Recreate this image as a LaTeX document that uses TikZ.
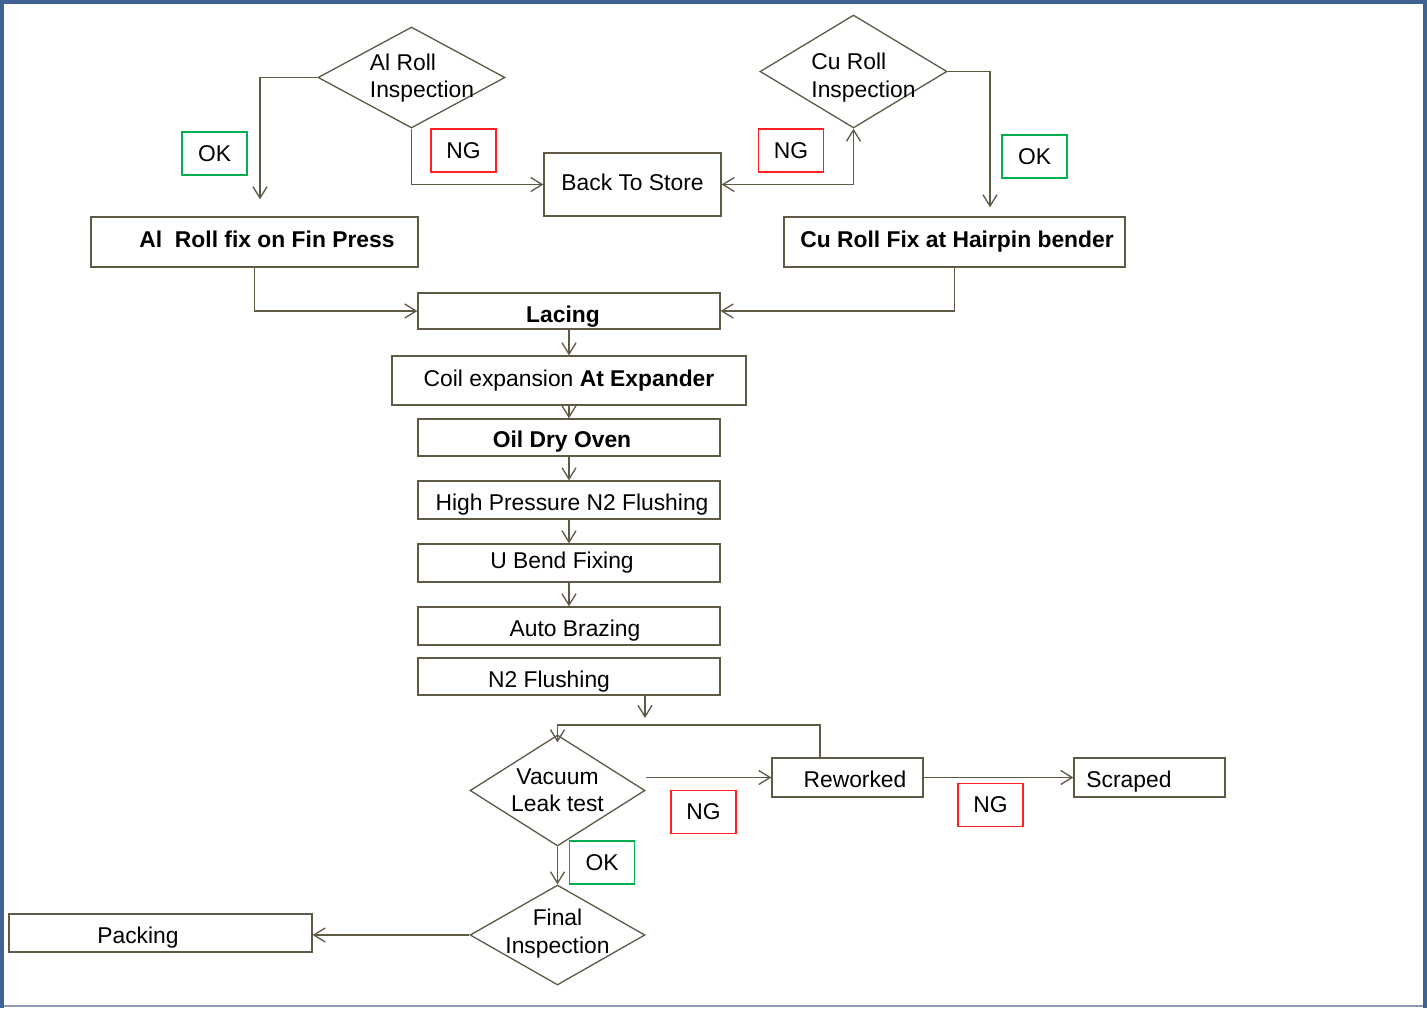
\documentclass[tikz,border=0pt]{standalone}
\usepackage{fontspec}
\setmainfont{Liberation Sans}
\usetikzlibrary{shapes.geometric, arrows.meta}
\definecolor{frameblue}{HTML}{3F6494}
\definecolor{framegray}{HTML}{8A9AB3}
\definecolor{flowline}{HTML}{5E5A45}
\definecolor{okgreen}{HTML}{00B050}
\definecolor{ngred}{HTML}{FF2020}

\tikzset{
  flowbox/.style={draw=flowline, line width=0.75pt, inner sep=0pt},
  decision/.style={diamond, draw=flowline, line width=0.75pt, inner sep=0pt},
  okbox/.style={draw=okgreen, line width=0.75pt, inner sep=0pt, minimum width=1.3cm, minimum height=0.86cm},
  ngbox/.style={draw=ngred, line width=0.75pt, inner sep=0pt, minimum width=1.3cm, minimum height=0.86cm},
  flow/.style={draw=flowline, line width=0.75pt, ->},
}

\begin{document}
\begin{tikzpicture}[x=0.02cm, y=-0.02cm, font=\fontsize{13}{15.5}\selectfont,
  >={Straight Barb[length=6.5pt, width=8pt]}]
  \useasboundingbox (0,0) rectangle (1427,1008);

  % Frame
  \draw[framegray, line width=0.6pt] (0,1006) -- (1427,1006);
  \draw[frameblue, line width=2.3pt] (2,1008) -- (2,2) -- (1425,2) -- (1425,1008);

  % Incoming roll inspection (TOP)
  \node[decision, minimum width=3.74cm, minimum height=2.02cm,
    label={[align=left, xshift=0.21cm, yshift=-0.01cm]center:Al Roll\\Inspection}] (alins) at (411.5,77.5) {};
  \node[decision, minimum width=3.74cm, minimum height=2.26cm,
    label={[align=left, xshift=0.2cm, yshift=-0.12cm]center:Cu Roll\\Inspection}] (cuins) at (853.5,71.5) {};
  \node[flowbox, minimum width=3.54cm, minimum height=1.26cm,
    label={[yshift=0.05cm]center:Back To Store}] (store) at (632.5,184.5) {};

  \node[flowbox, minimum width=6.54cm, minimum height=1cm,
    label={[xshift=0.25cm, yshift=0.06cm]center:\textbf{Al\ \ Roll fix on Fin Press}}] (alfix) at (254.5,242) {};
  \node[flowbox, minimum width=6.82cm, minimum height=1cm,
    label={[xshift=0.05cm, yshift=0.01cm]center:\textbf{Cu Roll Fix at Hairpin bender}}] (cufix) at (954.5,242) {};

  % OK / NG tags
  \node[okbox] (okal) at (214.5,153.5) {OK};
  \node[ngbox] (ngal) at (463.5,150.5) {NG};
  \node[ngbox] (ngcu) at (791,150.5) {NG};
  \node[okbox] (okcu) at (1034.5,156.5) {OK};

  % Main line (MIDDLE)
  \node[flowbox, minimum width=6.04cm, minimum height=0.72cm,
    label={[xshift=-0.12cm, yshift=-0.12cm]center:\textbf{Lacing}}] (lacing) at (569,311) {};
  \node[flowbox, minimum width=7.08cm, minimum height=0.98cm,
    label={[yshift=-0.01cm]center:Coil expansion \textbf{At Expander}}] (coil) at (569,380.5) {};
  \node[flowbox, minimum width=6.04cm, minimum height=0.74cm,
    label={[xshift=-0.14cm, yshift=-0.09cm]center:\textbf{Oil Dry Oven}}] (oven) at (569,437.5) {};
  \node[flowbox, minimum width=6.04cm, minimum height=0.76cm,
    label={[xshift=0.06cm, yshift=-0.1cm]center:High Pressure N2 Flushing}] (hpf) at (569,500) {};
  \node[flowbox, minimum width=6.04cm, minimum height=0.76cm,
    label={[xshift=-0.14cm]center:U Bend Fixing}] (ubend) at (569,563) {};
  \node[flowbox, minimum width=6.04cm, minimum height=0.76cm,
    label={[xshift=0.12cm, yshift=-0.1cm]center:Auto Brazing}] (auto) at (569,626) {};
  \node[flowbox, minimum width=6.04cm, minimum height=0.74cm,
    label={[xshift=-0.4cm, yshift=-0.11cm]center:N2 Flushing}] (n2) at (569,676.5) {};

  % Leak test and final (LOWER)
  \node[decision, minimum width=3.5cm, minimum height=2.22cm,
    label={[align=center]center:Vacuum\\Leak test}] (vac) at (557.5,790.5) {};
  \node[flowbox, minimum width=3.02cm, minimum height=0.78cm,
    label={[xshift=0.15cm, yshift=-0.03cm]center:Reworked}] (rework) at (847.5,777.5) {};
  \node[flowbox, minimum width=3.02cm, minimum height=0.78cm,
    label={[xshift=-0.41cm, yshift=-0.09cm]center:Scraped}] (scraped) at (1149.5,777.5) {};
  \node[decision, minimum width=3.5cm, minimum height=2cm,
    label={[align=center, yshift=0.03cm]center:Final\\Inspection}] (final) at (557.5,935) {};
  \node[flowbox, minimum width=6.06cm, minimum height=0.76cm,
    label={[xshift=-0.45cm, yshift=-0.1cm]center:Packing}] (pack) at (160.5,933) {};

  \node[ngbox] (ngvac) at (703.5,812) {NG};
  \node[ngbox] (ngrw) at (990.5,805) {NG};
  \node[okbox] (okvac) at (602,862.5) {OK};

  % Connectors
  \coordinate (n2drop) at (645,718);
  \coordinate (loop) at (820,725);

  \draw[flow] (alins.west) -| ([shift={(5.5,-17)}]alfix.north);
  \draw[flow] (alins.south) |- (store.west);
  \draw[flow, <->] (store.east) -| (cuins.south);
  \draw[flow] (cuins.east) -| ([shift={(35.5,-9)}]cufix.north);
  \draw[flow] (alfix.south) |- (lacing.west);
  \draw[flow] (cufix.south) |- (lacing.east);

  \draw[flow] (lacing) -- (coil);
  \draw[flow] (coil) -- (oven);
  \draw[flow] (oven) -- (hpf);
  \draw[flow] (hpf) -- (ubend);
  \draw[flow] (ubend) -- (auto);
  \draw[flow] (n2.south -| n2drop) -- (n2drop);

  \draw[flow] (rework.north -| loop) -- (loop) -| ([shift={(0,8)}]vac.north);
  \draw[flow] (vac.east |- rework.west) -- (rework.west);
  \draw[flow] (rework) -- (scraped);
  \draw[flow] (vac) -- (final);
  \draw[flow] (final.west) -- (final.west -| pack.east);
\end{tikzpicture}
\end{document}
